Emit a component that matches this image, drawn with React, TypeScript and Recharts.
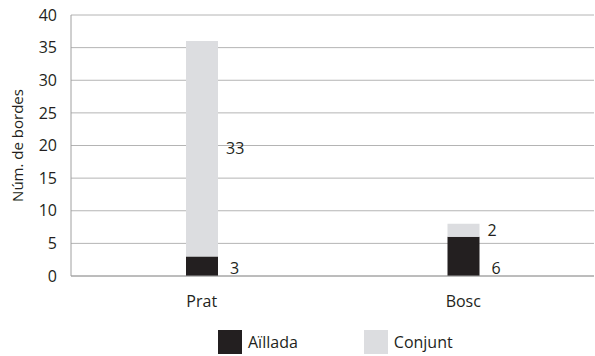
import { BarChart, Bar, XAxis, YAxis, CartesianGrid, LabelList } from 'recharts'

const categories = ['Prat', 'Bosc']
const aillada = [3, 6]
const conjunt = [33, 2]
const yTicks = [0, 5, 10, 15, 20, 25, 30, 35, 40]

const data = categories.map((name, i) => ({
  name,
  aillada: aillada[i],
  conjunt: conjunt[i]
}))

const FONT = '"Open Sans", sans-serif'
const DARK = '#231f20'
const LIGHT = '#dcdde0'
const FS = 16

const bottomLabel = (props: any) => {
  const { x, y, width, height, value } = props
  return (
    <text x={x + width + 12} y={y + height - 8} dy="0.35em" fontSize={FS} fill="#231f20" fontFamily={FONT}>
      {value}
    </text>
  )
}

const midLabel = (props: any) => {
  const { x, y, width, height, value } = props
  return (
    <text x={x + width + 8} y={y + height / 2} dy="0.35em" fontSize={FS} fill="#231f20" fontFamily={FONT}>
      {value}
    </text>
  )
}

function LegendRow() {
  const items = [
    { label: 'Aïllada', color: DARK },
    { label: 'Conjunt', color: LIGHT }
  ]
  return (
    <div style={{ position: 'absolute', left: 218, top: 330, display: 'flex', fontFamily: FONT, fontSize: FS, color: '#231f20' }}>
      {items.map((it, i) => (
        <div key={it.label} style={{ display: 'flex', alignItems: 'center', marginRight: i === 0 ? 66 : 0 }}>
          <span style={{ width: 24, height: 24, background: it.color, display: 'inline-block', marginRight: 6 }} />
          <span>{it.label}</span>
        </div>
      ))}
    </div>
  )
}

export default function App() {
  return (
    <div style={{ position: 'absolute', left: 0, top: 0, width: 595, height: 356, background: '#fff' }}>
      <BarChart
        width={595}
        height={356}
        data={data}
        margin={{ top: 15, right: 1, bottom: 50, left: 0 }}
        style={{ fontFamily: FONT }}
      >
        <CartesianGrid vertical={false} stroke="#b4b4b4" />
        <XAxis
          dataKey="name"
          height={30}
          axisLine={{ stroke: '#a0a0a0' }}
          tickLine={false}
          tick={{ fontSize: FS, fill: '#231f20', fontFamily: FONT }}
          tickMargin={14}
        />
        <YAxis
          width={71}
          domain={[0, 40]}
          ticks={yTicks}
          axisLine={{ stroke: '#a0a0a0' }}
          tickLine={false}
          tick={{ fontSize: FS, fill: '#231f20', fontFamily: FONT }}
          tickMargin={8}
          label={{
            value: 'Núm. de bordes',
            angle: -90,
            position: 'insideLeft',
            offset: 18,
            style: { textAnchor: 'middle', fontSize: 15, fill: '#231f20', fontFamily: FONT }
          }}
        />
        <Bar dataKey="aillada" stackId="a" fill={DARK} barSize={32} isAnimationActive={false}>
          <LabelList dataKey="aillada" content={bottomLabel} />
        </Bar>
        <Bar dataKey="conjunt" stackId="a" fill={LIGHT} barSize={32} isAnimationActive={false}>
          <LabelList dataKey="conjunt" content={midLabel} />
        </Bar>
      </BarChart>
      <LegendRow />
    </div>
  )
}
